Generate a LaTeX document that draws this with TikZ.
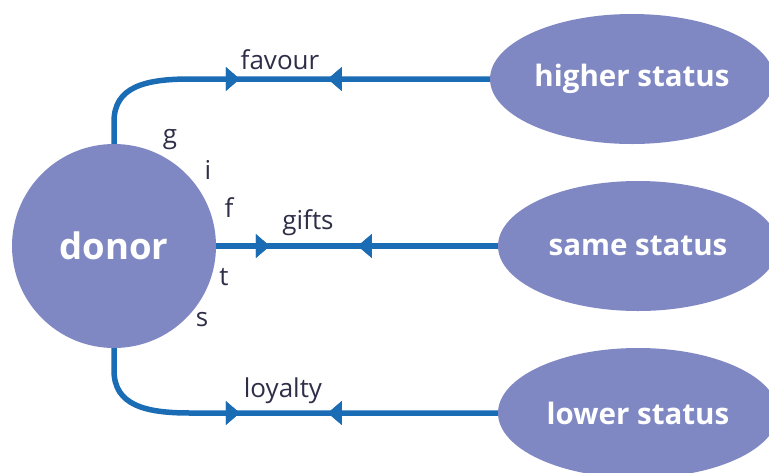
\documentclass[tikz,border=0pt]{standalone}
\usepackage{fontspec}
\setmainfont{Open Sans}
\usetikzlibrary{shapes.geometric,arrows.meta,decorations.markings}
\definecolor{ellfill}{HTML}{7F88C3}
\definecolor{linecol}{HTML}{1A6DB5}
\definecolor{txtcol}{HTML}{2E2E48}
\tikzset{
  bubble/.style={ellipse,fill=ellfill,draw=none,inner sep=0pt,text=white,font=\fontsize{29.5}{31}\selectfont\bfseries},
  conn/.style={draw=linecol,line width=5.5pt,postaction={decorate},
    decoration={markings,
      mark=at position -#1 with {\arrow{Triangle[length=14pt,width=23pt]}}}},
  back/.style={postaction={decorate},
    decoration={markings,
      mark=at position -#1 with {\arrowreversed{Triangle[length=14pt,width=23pt]}}}},
  lab/.style={text=txtcol,font=\fontsize{26}{28}\selectfont,inner sep=0pt},
}
\begin{document}
\begin{tikzpicture}[x=1pt,y=-1pt]
\useasboundingbox (0,0) rectangle (769,472);
\node[circle,fill=ellfill,minimum size=204pt,inner sep=0pt,text=white,font=\fontsize{36.5}{38}\selectfont\bfseries] (donor) at (114,246) {donor};
\node[bubble,minimum width=284pt,minimum height=130pt] (hs) at (632,79) {higher status};
\node[bubble,minimum width=280pt,minimum height=130pt] (ss) at (638,246) {same status};
\node[bubble,minimum width=280pt,minimum height=130pt] (ls) at (638,413) {lower status};

\draw[conn=250pt,back=162pt] (donor.north) -- ++(0,-22) .. controls +(0,-35) and +(-45,0) .. (190,79) -- (hs.west);
\draw[conn=228pt,back=140pt] (donor.east) -- (ss.west);
\draw[conn=258pt,back=170pt] (donor.south) -- ++(0,22) .. controls +(0,35) and +(-45,0) .. (190,413) -- (ls.west);

\node[lab] (favour) at (280,60) {favour};
\node[lab] (gifts) at (308,223) {gifts};
\node[lab] (loyalty) at (283,391) {loyalty};
\node[lab] (g) at (170,140) {g};
\node[lab] (i) at (208,170) {i};
\node[lab] (f) at (229,208) {f};
\node[lab] (t) at (224,277) {t};
\node[lab] (s) at (202,320) {s};
\end{tikzpicture}
\end{document}
